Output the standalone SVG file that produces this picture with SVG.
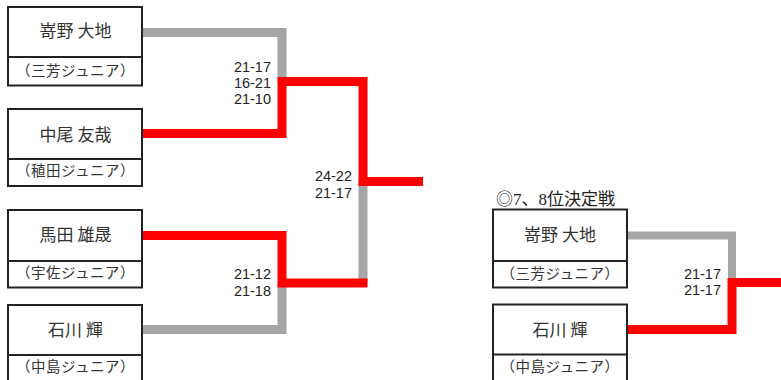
<svg xmlns="http://www.w3.org/2000/svg" width="781" height="380" viewBox="0 0 781 380">
<style>
.box{fill:#fff;stroke:#222;stroke-width:2}
.div{stroke:#222;stroke-width:2}
.nm{font-family:"Noto Sans CJK JP","Noto Sans",sans-serif;font-size:17px;fill:#333;text-anchor:middle}
.af{font-family:"Noto Sans CJK JP","Noto Sans",sans-serif;font-size:14.5px;fill:#333;text-anchor:middle;letter-spacing:0.5px}
.sc{font-family:"Liberation Sans","Noto Sans",sans-serif;font-size:14.5px;fill:#222;text-anchor:end}
.gr{fill:none;stroke:#a6a6a6;stroke-width:9;stroke-linejoin:miter}
.rd{fill:none;stroke:#ff0000;stroke-width:9;stroke-linejoin:miter}
.ttl{font-family:"Liberation Serif","Noto Sans CJK JP",serif;font-size:17px;fill:#222}
</style>
<g id="connectors">
<path class="gr" d="M142,32.5 H282 V82"/>
<path class="gr" d="M142,329.5 H282 V283"/>
<path class="gr" d="M363,181.5 V283"/>
<path class="rd" d="M142,133.5 H282 V81.5 H363 V181.5 H423"/>
<path class="rd" d="M142,235.5 H282 V283 H367.5"/>
<path class="gr" style="stroke-width:8" d="M627,235.5 H732 V283"/>
<path class="rd" d="M627,329.5 H732 V282.5 H781"/>
</g>
<g id="scores">
<text class="sc" x="271" y="72">21-17</text>
<text class="sc" x="271" y="88">16-21</text>
<text class="sc" x="271" y="104">21-10</text>
<text class="sc" x="352" y="181">24-22</text>
<text class="sc" x="352" y="197.5">21-17</text>
<text class="sc" x="271" y="279">21-12</text>
<text class="sc" x="271" y="296">21-18</text>
<text class="sc" x="721" y="279">21-17</text>
<text class="sc" x="721" y="295">21-17</text>
</g>
<g id="node1">
<rect class="box" x="8" y="7" width="134" height="78.5"/>
<line class="div" x1="8" y1="57" x2="142" y2="57"/>
<text class="nm" x="75.5" y="37">嵜野 大地</text>
<text class="af" x="75.5" y="76">（三芳ジュニア）</text>
</g>
<g id="node2">
<rect class="box" x="8" y="109" width="134" height="77"/>
<line class="div" x1="8" y1="159" x2="142" y2="159"/>
<text class="nm" x="75.5" y="140.5">中尾 友哉</text>
<text class="af" x="75.5" y="176">（稙田ジュニア）</text>
</g>
<g id="node3">
<rect class="box" x="8" y="210" width="134" height="77.5"/>
<line class="div" x1="8" y1="261" x2="142" y2="261"/>
<text class="nm" x="75.5" y="240.5">馬田 雄晟</text>
<text class="af" x="75.5" y="278">（宇佐ジュニア）</text>
</g>
<g id="node4">
<rect class="box" x="8" y="305" width="134" height="80"/>
<line class="div" x1="8" y1="355" x2="142" y2="355"/>
<text class="nm" x="75.5" y="335.5">石川 輝</text>
<text class="af" x="75.5" y="372">（中島ジュニア）</text>
</g>
<text class="ttl" x="496" y="205">◎7、8位決定戦</text>
<g id="node5">
<rect class="box" x="493" y="209.5" width="134" height="78"/>
<line class="div" x1="493" y1="261" x2="627" y2="261"/>
<text class="nm" x="560" y="240.5">嵜野 大地</text>
<text class="af" x="560" y="279">（三芳ジュニア）</text>
</g>
<g id="node6">
<rect class="box" x="493" y="304.5" width="134" height="80"/>
<line class="div" x1="493" y1="354.5" x2="627" y2="354.5"/>
<text class="nm" x="560" y="335.5">石川 輝</text>
<text class="af" x="560" y="372">（中島ジュニア）</text>
</g>
</svg>
